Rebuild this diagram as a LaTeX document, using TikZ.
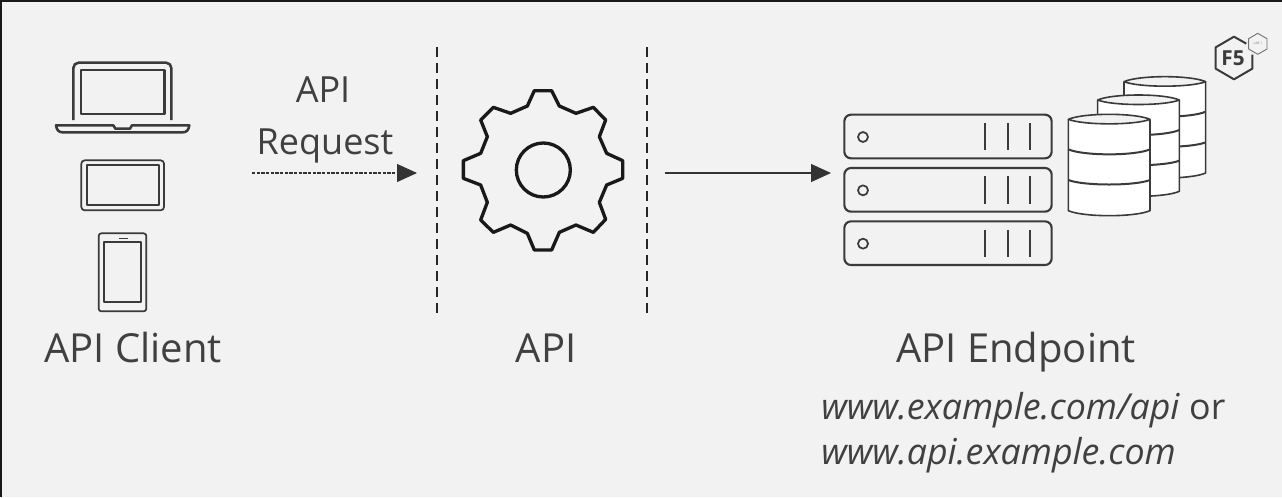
\documentclass[tikz,border=0pt]{standalone}
\usepackage{fontspec}
\setmainfont{Open Sans}
\definecolor{bg}{HTML}{F2F2F2}
\definecolor{ink}{HTML}{3A3A3A}
\definecolor{txt}{HTML}{404040}
\usetikzlibrary{arrows.meta}
\tikzset{
 x=0.75pt,y=-0.75pt,
 icon/.style={draw=ink,line width=1.9pt,line join=round},
 thin icon/.style={draw=ink,line width=1.3pt,line join=round},
 divider/.style={draw=black!85,line width=2pt,dash pattern=on 7.5pt off 4.5pt},
 flow/.style={draw=black!80,line width=0.8pt,-{Triangle[length=15pt,width=13.5pt,fill=black!80]}},
 label/.style={text=txt,font=\fontsize{30}{36}\selectfont,inner sep=0pt,anchor=base},
 small/.style={text=txt,font=\fontsize{27}{32}\selectfont,inner sep=0pt,anchor=base},
 url/.style={text=txt,font=\fontsize{26.8}{32}\selectfont,inner sep=0pt,anchor=base west},
}
\begin{document}
\begin{tikzpicture}
\useasboundingbox (0,0) rectangle (1282,497);
\fill[bg] (0,0) rectangle (1282,497);
\fill[black!90] (0,0) rectangle (1282,1.5);
\fill[black!90] (0,0) rectangle (1.5,497);
% laptop
\begin{scope}[shift={(30,40)},x=0.25pt,y=-0.25pt]
 \draw[icon,rounded corners=4pt] (130,240) -- (130,68) -- (424,68) -- (424,240);
 \draw[icon] (153,90) rectangle (403,222);
 \draw[icon] (78,256) -- (250,256) -- (256,266) -- (300,266) -- (306,256) -- (478,256) .. controls (476,270) and (470,277) .. (458,277) -- (98,277) .. controls (86,277) and (80,270) .. (78,256) -- cycle;
 % tablet
 \draw[thin icon,rounded corners=2.5pt] (154,361) rectangle (402,511);
 \draw[thin icon] (170,375) rectangle (387,496);
 % phone
 \draw[thin icon,rounded corners=2pt] (206,580) rectangle (349,814);
 \draw[thin icon] (221,607) rectangle (333,787);
 \draw[draw=ink,line width=1pt] (266,595) -- (294,595);
\end{scope}
% gear
\begin{scope}[shift={(440,70)},x=0.25pt,y=-0.25pt]
 \draw[draw=black!90,line width=2.5pt,line join=round] (283,62)--(335,62)--(358,108)--(408,130)--(460,112)--(497,150)--(478,200)--(500,250)--(548,272)--(548,325)--(500,345)--(478,397)--(497,448)--(460,487)--(408,465)--(358,487)--(335,540)--(283,540)--(262,490)--(212,465)--(160,487)--(122,450)--(142,397)--(122,345)--(70,325)--(70,272)--(122,250)--(142,200)--(122,150)--(160,112)--(212,130)--(262,108)--cycle;
 \draw[draw=black!90,line width=2.5pt] (310,300) circle[radius=81];
\end{scope}
% servers and databases
\begin{scope}[shift={(830,20)},x=0.25pt,y=-0.25pt]
 \foreach \o in {0,160,320}{
  \draw[icon,line width=1.6pt,rounded corners=5pt] (43,{284+\o}) rectangle (665,{415+\o});
  \draw[thin icon] (99,{351+\o}) circle[radius=15];
  \foreach \b in {466,533,600}{\draw[thin icon,line width=1.4pt] (\b,{309+\o}) -- (\b,{391+\o});}
 }
 \foreach \dx/\dy in {167/-113,88/-58,0/0}{
  \begin{scope}[shift={(\dx,\dy)}]
  \path[fill=white] (715,298) -- (715,572) .. controls (760,592) and (915,592) .. (960,572) -- (960,298) .. controls (915,278) and (760,278) .. (715,298) -- cycle;
  \path[fill=bg] (715,298) .. controls (760,278) and (915,278) .. (960,298) .. controls (915,316) and (760,316) .. (715,298) -- cycle;
  \draw[thin icon,line width=1.2pt] (715,298) -- (715,572) .. controls (760,592) and (915,592) .. (960,572) -- (960,298);
  \draw[thin icon,line width=1.2pt] (715,298) .. controls (760,278) and (915,278) .. (960,298) .. controls (915,316) and (760,316) .. (715,298) -- cycle;
  \draw[thin icon,line width=1.5pt] (715,388) .. controls (760,408) and (915,408) .. (960,388);
  \draw[thin icon,line width=1.5pt] (715,480) .. controls (760,498) and (915,498) .. (960,480);
  \end{scope}
 }
\end{scope}
% badge
\begin{scope}[shift={(1200,20)},x=0.25pt,y=-0.25pt]
 \draw[icon,line width=1.5pt] (139,71) -- (102,50) -- (47,82) -- (47,146) -- (102,178) -- (157,146) -- (157,104);
 \draw[thin icon,line width=0.7pt,draw=black!55] (173,40) -- (201,56) -- (201,87) -- (173,103) -- (146,87) -- (146,56) -- cycle;
\end{scope}
\node[inner sep=0pt,text=ink,font=\bfseries\fontsize{15.5}{18}\selectfont] (f5) at (1233,58) {F5};
\node[inner sep=0pt,text=black!50,font=\fontsize{2.5}{3}\selectfont] (lab) at (1258,43) {LAB 1};
% dividers
\coordinate (d1t) at (437,47); \coordinate (d1b) at (437,313);
\coordinate (d2t) at (647,47); \coordinate (d2b) at (647,313);
\draw[divider] (d1t) -- (d1b);
\draw[divider] (d2t) -- (d2b);
% arrows
\coordinate (r1) at (252,173); \coordinate (r2) at (417,173);
\coordinate (s1) at (665,173); \coordinate (s2) at (831,173);
\draw[flow,dash pattern=on 2.5pt off 1pt] (r1) -- (r2);
\draw[flow] (s1) -- (s2);
% text
\node[small] (apilab) at (323,102) {API};
\node[small] (reqlab) at (325,154) {Request};
\node[label] (client) at (133,362) {API Client};
\node[label] (api) at (546,362) {API};
\node[label] (endpoint) at (1016,362) {API Endpoint};
\node[url] (url1) at (821,419) {\textit{www.example.com/api} or};
\node[url] (url2) at (821,464) {\textit{www.api.example.com}};
\end{tikzpicture}
\end{document}
